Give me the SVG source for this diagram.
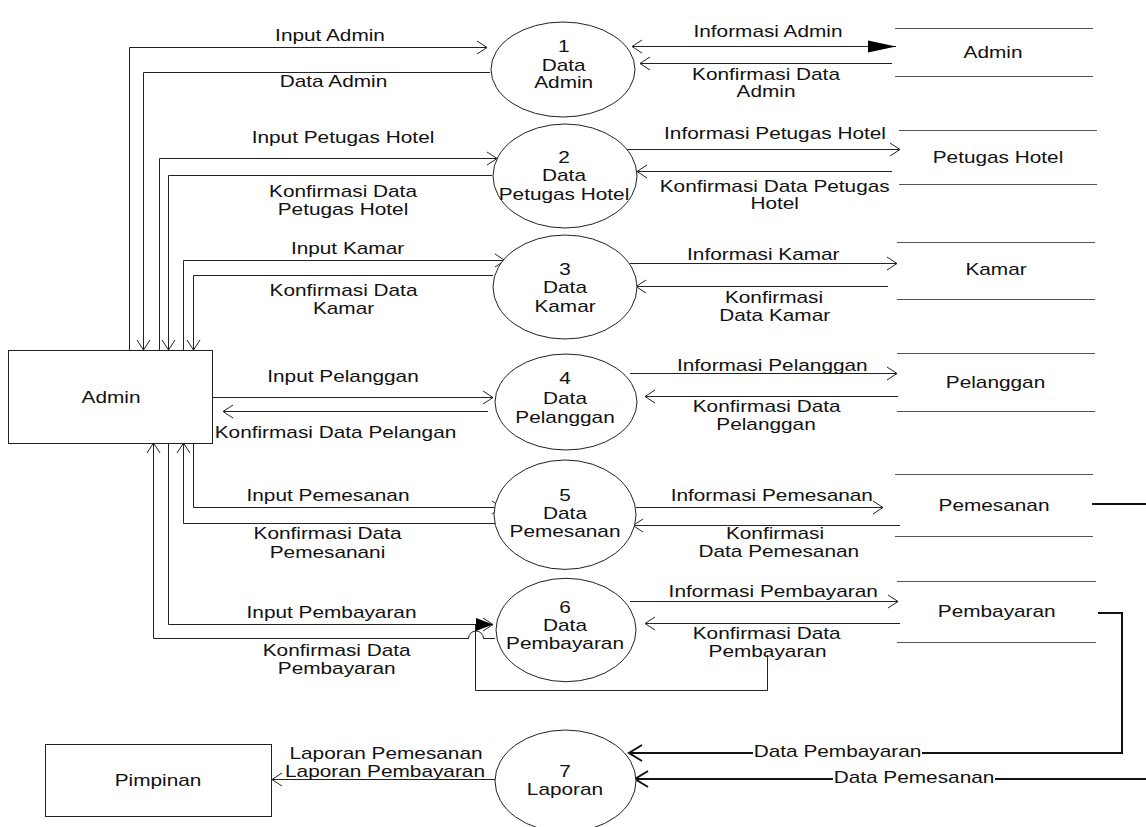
<svg xmlns="http://www.w3.org/2000/svg" width="1146" height="827" viewBox="0 0 1146 827">
<style>
.t{font-family:"Liberation Sans",Arial,sans-serif;font-size:16px;fill:#111;text-anchor:middle}
.ln{fill:none;stroke:#222;stroke-width:1}
.tk{fill:none;stroke:#111;stroke-width:2}
.sh{fill:#fff;stroke:#222;stroke-width:1}
.st{stroke:#555;stroke-width:1.2}
</style>
<defs>
<marker id="oa" markerUnits="userSpaceOnUse" viewBox="-12 -8 14 16" markerWidth="14" markerHeight="16" refX="0" refY="0" orient="auto-start-reverse"><path d="M-10,-6.5 L0,0 L-10,6.5" fill="none" stroke="#222" stroke-width="1"/></marker>
<marker id="ta" markerUnits="userSpaceOnUse" viewBox="-15 -10 17 20" markerWidth="17" markerHeight="20" refX="0" refY="0" orient="auto"><path d="M-13,-8 L0,0 L-13,8" fill="none" stroke="#111" stroke-width="2"/></marker>
<marker id="fa" markerUnits="userSpaceOnUse" viewBox="-30 -8 32 16" markerWidth="32" markerHeight="16" refX="0" refY="0" orient="auto"><path d="M-28,-6 L0,0 L-28,6 Z" fill="#000"/></marker>
<marker id="fb" markerUnits="userSpaceOnUse" viewBox="-19 -8 21 16" markerWidth="21" markerHeight="16" refX="0" refY="0" orient="auto"><path d="M-17,-6.5 L0,0 L-17,6.5 Z" fill="#000"/></marker>
</defs>
<rect width="1146" height="827" fill="#fff"/>

<g id="connectors">
<path class="ln" d="M129.5,350 V47.5 H487" marker-end="url(#oa)"/>
<path class="ln" d="M490,72.5 H143.5 V350" marker-end="url(#oa)"/>
<path class="ln" d="M159.5,350 V158.5 H497" marker-end="url(#oa)"/>
<path class="ln" d="M492,175.5 H168.5 V350" marker-end="url(#oa)"/>
<path class="ln" d="M183.5,350 V260.5 H505" marker-end="url(#oa)"/>
<path class="ln" d="M493,275.5 H193.5 V350" marker-end="url(#oa)"/>
<path class="ln" d="M213,397.5 H493" marker-end="url(#oa)"/>
<path class="ln" d="M488,411.5 H223" marker-end="url(#oa)"/>
<path class="ln" d="M193.5,443 V507.5 H502" marker-end="url(#oa)"/>
<path class="ln" d="M495,523.5 H183.5 V443" marker-end="url(#oa)"/>
<path class="ln" d="M168.5,443 V624.5 H493" marker-end="url(#oa)"/>
<path class="ln" d="M495,638.5 H483.5 A7.5,7.5 0 0 0 468.5,638.5 H153.5 V443" marker-end="url(#oa)"/>
<path class="ln" d="M767.5,655 V690.5 H475.5 V624.5 H493" marker-end="url(#fb)"/>

<path class="ln" d="M632,46.5 H896" marker-start="url(#oa)" marker-end="url(#fa)"/>
<path class="ln" d="M892,63.5 H640" marker-end="url(#oa)"/>
<path class="ln" d="M625,149.5 H900" marker-end="url(#oa)"/>
<path class="ln" d="M892,171.5 H637" marker-end="url(#oa)"/>
<path class="ln" d="M630,263.5 H897" marker-end="url(#oa)"/>
<path class="ln" d="M888,286.5 H636" marker-end="url(#oa)"/>
<path class="ln" d="M630,373.5 H897" marker-end="url(#oa)"/>
<path class="ln" d="M898,396.5 H645" marker-end="url(#oa)"/>
<path class="ln" d="M636,507.5 H883" marker-end="url(#oa)"/>
<path class="ln" d="M900,525.5 H633" marker-end="url(#oa)"/>
<path class="ln" d="M630,601.5 H898" marker-end="url(#oa)"/>
<path class="ln" d="M900,623.5 H645" marker-end="url(#oa)"/>

<path class="tk" d="M1098,613 H1122 V753 H922"/>
<path class="tk" d="M753,753 H629" marker-end="url(#ta)"/>
<path class="tk" d="M1092,504 H1146"/>
<path class="tk" d="M1146,779 H995"/>
<path class="tk" d="M833,779 H635" marker-end="url(#ta)"/>
<path class="ln" d="M495,779.5 H272" marker-end="url(#oa)"/>

<text class="t" transform="translate(330,41) scale(1.3,1)">Input Admin</text>
<text class="t" transform="translate(333.5,86.7) scale(1.3,1)">Data Admin</text>
<text class="t" transform="translate(343,142.7) scale(1.3,1)">Input Petugas Hotel</text>
<text class="t" transform="translate(343,196.7) scale(1.3,1)">Konfirmasi Data</text>
<text class="t" transform="translate(343,215) scale(1.3,1)">Petugas Hotel</text>
<text class="t" transform="translate(347.5,254) scale(1.3,1)">Input Kamar</text>
<text class="t" transform="translate(343.5,295.7) scale(1.3,1)">Konfirmasi Data</text>
<text class="t" transform="translate(343.5,314) scale(1.3,1)">Kamar</text>
<text class="t" transform="translate(343,382) scale(1.3,1)">Input Pelanggan</text>
<text class="t" transform="translate(335.5,438) scale(1.3,1)">Konfirmasi Data Pelangan</text>
<text class="t" transform="translate(328,500.7) scale(1.3,1)">Input Pemesanan</text>
<text class="t" transform="translate(327.5,539) scale(1.3,1)">Konfirmasi Data</text>
<text class="t" transform="translate(327.5,558) scale(1.3,1)">Pemesanani</text>
<text class="t" transform="translate(331.5,618) scale(1.3,1)">Input Pembayaran</text>
<text class="t" transform="translate(336.7,655.7) scale(1.3,1)">Konfirmasi Data</text>
<text class="t" transform="translate(336.7,674) scale(1.3,1)">Pembayaran</text>

<text class="t" transform="translate(768,37.3) scale(1.3,1)">Informasi Admin</text>
<text class="t" transform="translate(766,80) scale(1.3,1)">Konfirmasi Data</text>
<text class="t" transform="translate(766,97) scale(1.3,1)">Admin</text>
<text class="t" transform="translate(775,139) scale(1.3,1)">Informasi Petugas Hotel</text>
<text class="t" transform="translate(774.7,191.7) scale(1.3,1)">Konfirmasi Data Petugas</text>
<text class="t" transform="translate(774.7,209) scale(1.3,1)">Hotel</text>
<text class="t" transform="translate(763.3,260) scale(1.3,1)">Informasi Kamar</text>
<text class="t" transform="translate(774,303) scale(1.3,1)">Konfirmasi</text>
<text class="t" transform="translate(774.7,320.7) scale(1.3,1)">Data Kamar</text>
<text class="t" transform="translate(772.3,370.7) scale(1.3,1)">Informasi Pelanggan</text>
<text class="t" transform="translate(766.7,412.3) scale(1.3,1)">Konfirmasi Data</text>
<text class="t" transform="translate(766,430) scale(1.3,1)">Pelanggan</text>
<text class="t" transform="translate(771.8,500.7) scale(1.3,1)">Informasi Pemesanan</text>
<text class="t" transform="translate(775,539) scale(1.3,1)">Konfirmasi</text>
<text class="t" transform="translate(778.8,556.7) scale(1.3,1)">Data Pemesanan</text>
<text class="t" transform="translate(773.2,596.7) scale(1.3,1)">Informasi Pembayaran</text>
<text class="t" transform="translate(766.7,639.3) scale(1.3,1)">Konfirmasi Data</text>
<text class="t" transform="translate(767.5,656.7) scale(1.3,1)">Pembayaran</text>

<text class="t" transform="translate(386,759.3) scale(1.3,1)">Laporan Pemesanan</text>
<text class="t" transform="translate(385,777.3) scale(1.3,1)">Laporan Pembayaran</text>
<text class="t" transform="translate(837.5,757.3) scale(1.3,1)">Data Pembayaran</text>
<text class="t" transform="translate(914,783.3) scale(1.3,1)">Data Pemesanan</text>
</g>

<g id="ext-admin">
<rect class="sh" x="8.5" y="350.5" width="204" height="93" fill-opacity="0"/>
<text class="t" transform="translate(111,403) scale(1.3,1)">Admin</text>
</g>
<g id="ext-pimpinan">
<rect class="sh" x="45.5" y="744.5" width="226" height="72"/>
<text class="t" transform="translate(158,786) scale(1.3,1)">Pimpinan</text>
</g>

<g id="p1">
<ellipse class="sh" cx="563" cy="69.5" rx="72" ry="47.5"/>
<text class="t" transform="translate(563.7,52) scale(1.3,1)">1</text>
<text class="t" transform="translate(563.7,70.5) scale(1.3,1)">Data</text>
<text class="t" transform="translate(563.7,88) scale(1.3,1)">Admin</text>
</g>
<g id="p2">
<ellipse class="sh" cx="565" cy="176" rx="72" ry="52"/>
<text class="t" transform="translate(564,162.7) scale(1.3,1)">2</text>
<text class="t" transform="translate(564,181) scale(1.3,1)">Data</text>
<text class="t" transform="translate(564,200) scale(1.3,1)">Petugas Hotel</text>
</g>
<g id="p3">
<ellipse class="sh" cx="565" cy="287" rx="72" ry="52"/>
<text class="t" transform="translate(565,275) scale(1.3,1)">3</text>
<text class="t" transform="translate(565,293.3) scale(1.3,1)">Data</text>
<text class="t" transform="translate(565,311.7) scale(1.3,1)">Kamar</text>
</g>
<g id="p4">
<ellipse class="sh" cx="566" cy="402" rx="71" ry="48"/>
<text class="t" transform="translate(565,384.3) scale(1.3,1)">4</text>
<text class="t" transform="translate(565,404) scale(1.3,1)">Data</text>
<text class="t" transform="translate(565,422.7) scale(1.3,1)">Pelanggan</text>
</g>
<g id="p5">
<ellipse class="sh" cx="565" cy="514.7" rx="71" ry="54.7"/>
<text class="t" transform="translate(565,501) scale(1.3,1)">5</text>
<text class="t" transform="translate(565,519) scale(1.3,1)">Data</text>
<text class="t" transform="translate(565,537.3) scale(1.3,1)">Pemesanan</text>
</g>
<g id="p6">
<ellipse class="sh" cx="566" cy="630" rx="70" ry="51.7"/>
<text class="t" transform="translate(565,612.7) scale(1.3,1)">6</text>
<text class="t" transform="translate(565,630.7) scale(1.3,1)">Data</text>
<text class="t" transform="translate(565,649) scale(1.3,1)">Pembayaran</text>
</g>
<g id="p7">
<ellipse class="sh" cx="565.5" cy="781" rx="70.5" ry="51"/>
<text class="t" transform="translate(565,777) scale(1.3,1)">7</text>
<text class="t" transform="translate(565,795) scale(1.3,1)">Laporan</text>
</g>

<g id="ds-admin">
<line class="st" x1="895" y1="28.5" x2="1093" y2="28.5"/>
<line class="st" x1="895" y1="76.5" x2="1093" y2="76.5"/>
<text class="t" transform="translate(993,57.7) scale(1.3,1)">Admin</text>
</g>
<g id="ds-petugas-hotel">
<line class="st" x1="899" y1="130.5" x2="1097" y2="130.5"/>
<line class="st" x1="899" y1="184.5" x2="1097" y2="184.5"/>
<text class="t" transform="translate(998,162.7) scale(1.3,1)">Petugas Hotel</text>
</g>
<g id="ds-kamar">
<line class="st" x1="897" y1="242.5" x2="1095" y2="242.5"/>
<line class="st" x1="897" y1="299.5" x2="1095" y2="299.5"/>
<text class="t" transform="translate(996,275) scale(1.3,1)">Kamar</text>
</g>
<g id="ds-pelanggan">
<line class="st" x1="897" y1="353.5" x2="1095" y2="353.5"/>
<line class="st" x1="897" y1="411.5" x2="1095" y2="411.5"/>
<text class="t" transform="translate(995.5,388.3) scale(1.3,1)">Pelanggan</text>
</g>
<g id="ds-pemesanan">
<line class="st" x1="895" y1="474.5" x2="1093" y2="474.5"/>
<line class="st" x1="895" y1="536.5" x2="1093" y2="536.5"/>
<text class="t" transform="translate(994,510.7) scale(1.3,1)">Pemesanan</text>
</g>
<g id="ds-pembayaran">
<line class="st" x1="897" y1="581.5" x2="1096" y2="581.5"/>
<line class="st" x1="897" y1="642.5" x2="1096" y2="642.5"/>
<text class="t" transform="translate(996.7,617.3) scale(1.3,1)">Pembayaran</text>
</g>
</svg>
